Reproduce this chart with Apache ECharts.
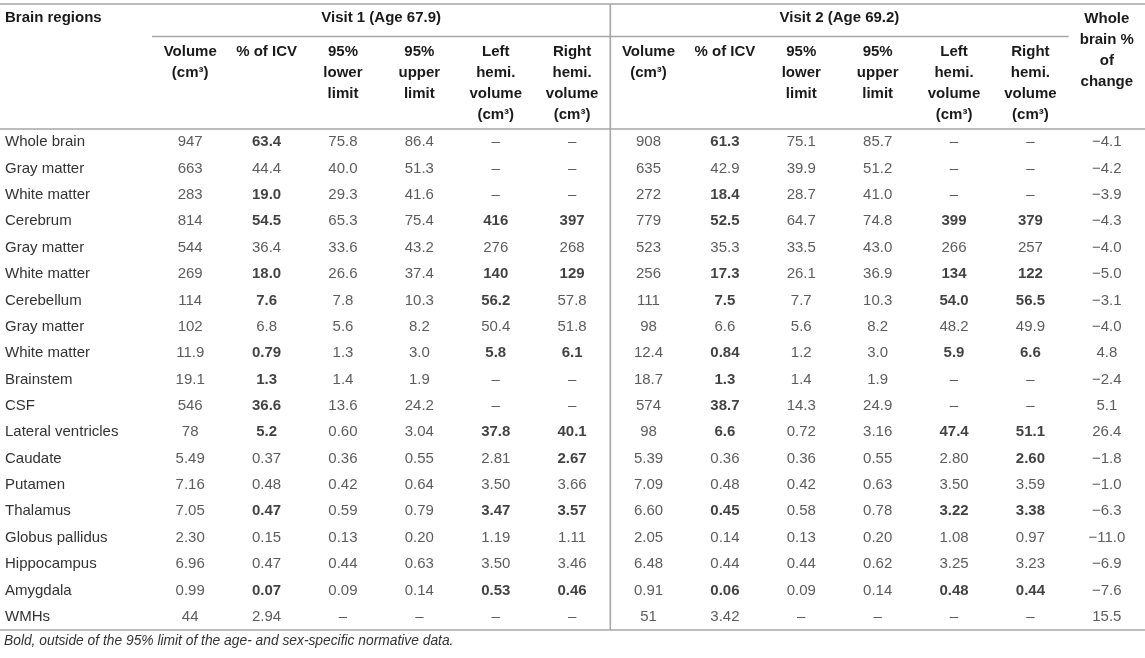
<!DOCTYPE html>
<html>
<head>
<meta charset="utf-8">
<title>Brain volumes</title>
<style>
html, body { margin: 0; padding: 0; background: #fff; }
#chart { width: 1145px; height: 658px; }
</style>
<script src="https://cdn.jsdelivr.net/npm/echarts@6/dist/echarts.min.js"></script>
</head>
<body>
<div id="chart"></div>
<script>
var regions = ['Whole brain', 'Gray matter', 'White matter', 'Cerebrum', 'Gray matter', 'White matter',
    'Cerebellum', 'Gray matter', 'White matter', 'Brainstem', 'CSF', 'Lateral ventricles', 'Caudate',
    'Putamen', 'Thalamus', 'Globus pallidus', 'Hippocampus', 'Amygdala', 'WMHs'];

var visitTitles = ['Visit 1 (Age 67.9)', 'Visit 2 (Age 69.2)'];
var visitHeaders = ['Volume\n(cm³)', '% of ICV', '95%\nlower\nlimit', '95%\nupper\nlimit',
    'Left\nhemi.\nvolume\n(cm³)', 'Right\nhemi.\nvolume\n(cm³)'];
var changeHeader = 'Whole\nbrain %\nof\nchange';
var footnote = 'Bold, outside of the 95% limit of the age- and sex-specific normative data.';

// visit 1 (age 67.9)
var v1Volume = ['947', '663', '283', '814', '544', '269', '114', '102', '11.9', '19.1', '546', '78', '5.49', '7.16', '7.05', '2.30', '6.96', '0.99', '44'];
var v1Icv = ['63.4', '44.4', '19.0', '54.5', '36.4', '18.0', '7.6', '6.8', '0.79', '1.3', '36.6', '5.2', '0.37', '0.48', '0.47', '0.15', '0.47', '0.07', '2.94'];
var v1Lower = ['75.8', '40.0', '29.3', '65.3', '33.6', '26.6', '7.8', '5.6', '1.3', '1.4', '13.6', '0.60', '0.36', '0.42', '0.59', '0.13', '0.44', '0.09', '–'];
var v1Upper = ['86.4', '51.3', '41.6', '75.4', '43.2', '37.4', '10.3', '8.2', '3.0', '1.9', '24.2', '3.04', '0.55', '0.64', '0.79', '0.20', '0.63', '0.14', '–'];
var v1Left = ['–', '–', '–', '416', '276', '140', '56.2', '50.4', '5.8', '–', '–', '37.8', '2.81', '3.50', '3.47', '1.19', '3.50', '0.53', '–'];
var v1Right = ['–', '–', '–', '397', '268', '129', '57.8', '51.8', '6.1', '–', '–', '40.1', '2.67', '3.66', '3.57', '1.11', '3.46', '0.46', '–'];

// visit 2 (age 69.2)
var v2Volume = ['908', '635', '272', '779', '523', '256', '111', '98', '12.4', '18.7', '574', '98', '5.39', '7.09', '6.60', '2.05', '6.48', '0.91', '51'];
var v2Icv = ['61.3', '42.9', '18.4', '52.5', '35.3', '17.3', '7.5', '6.6', '0.84', '1.3', '38.7', '6.6', '0.36', '0.48', '0.45', '0.14', '0.44', '0.06', '3.42'];
var v2Lower = ['75.1', '39.9', '28.7', '64.7', '33.5', '26.1', '7.7', '5.6', '1.2', '1.4', '14.3', '0.72', '0.36', '0.42', '0.58', '0.13', '0.44', '0.09', '–'];
var v2Upper = ['85.7', '51.2', '41.0', '74.8', '43.0', '36.9', '10.3', '8.2', '3.0', '1.9', '24.9', '3.16', '0.55', '0.63', '0.78', '0.20', '0.62', '0.14', '–'];
var v2Left = ['–', '–', '–', '399', '266', '134', '54.0', '48.2', '5.9', '–', '–', '47.4', '2.80', '3.50', '3.22', '1.08', '3.25', '0.48', '–'];
var v2Right = ['–', '–', '–', '379', '257', '122', '56.5', '49.9', '6.6', '–', '–', '51.1', '2.60', '3.59', '3.38', '0.97', '3.23', '0.44', '–'];

var wholeBrainChange = ['−4.1', '−4.2', '−3.9', '−4.3', '−4.0', '−5.0', '−3.1', '−4.0', '4.8', '−2.4', '5.1', '26.4', '−1.8', '−1.0', '−6.3', '−11.0', '−6.9', '−7.6', '15.5'];

// rows outside the 95% limit (shown bold)
var v1IcvOut = [0, 2, 3, 5, 6, 8, 9, 10, 11, 14, 17];
var v1LeftOut = [3, 5, 6, 8, 11, 14, 17];
var v1RightOut = [3, 5, 8, 11, 12, 14, 17];
var v2IcvOut = [0, 2, 3, 5, 6, 8, 9, 10, 11, 14, 17];
var v2LeftOut = [3, 5, 6, 8, 11, 14, 17];
var v2RightOut = [3, 5, 6, 8, 11, 12, 14, 17];

var FONT = 'Liberation Sans, Arial, Helvetica, sans-serif';
var LINE = '#a6a6a6';

var columns = [v1Volume, v1Icv, v1Lower, v1Upper, v1Left, v1Right,
    v2Volume, v2Icv, v2Lower, v2Upper, v2Left, v2Right, wholeBrainChange];
var outside = [[], v1IcvOut, [], [], v1LeftOut, v1RightOut,
    [], v2IcvOut, [], [], v2LeftOut, v2RightOut, []];

function padLines(text, n) {
    var lines = text.split('\n');
    while (lines.length < n) {
        lines.push('\u00a0');
    }
    return lines.join('\n');
}

var headerData = visitHeaders.concat(visitHeaders).map(function (h) {
    return padLines(h, 4);
});
headerData.push({
    value: changeHeader,
    textStyle: { padding: [0, 0, 33, 0] }
});

var cells = [];
columns.forEach(function (col, ci) {
    col.forEach(function (text, ri) {
        var item = { value: [ci, ri, text] };
        if (outside[ci].indexOf(ri) >= 0) {
            item.label = { fontWeight: 'bold', color: '#111' };
        }
        cells.push(item);
    });
});

var chart = echarts.init(document.getElementById('chart'));
chart.setOption({
    animation: false,
    textStyle: { fontFamily: FONT },
    grid: { left: 152, right: 0, top: 129, bottom: 28 },
    xAxis: {
        type: 'category',
        position: 'top',
        data: headerData,
        axisLine: { show: false },
        axisTick: { show: false },
        splitLine: { show: false },
        axisLabel: {
            interval: 0,
            margin: 4,
            fontFamily: FONT,
            fontSize: 15,
            fontWeight: 'bold',
            lineHeight: 21,
            color: '#1a1a1a'
        }
    },
    yAxis: {
        type: 'category',
        inverse: true,
        data: regions,
        axisLine: { show: false },
        axisTick: { show: false },
        splitLine: { show: false },
        axisLabel: {
            align: 'left',
            margin: 147,
            fontFamily: FONT,
            fontSize: 15,
            color: '#333'
        }
    },
    series: [{
        type: 'scatter',
        symbolSize: 0,
        data: cells,
        label: {
            show: true,
            position: 'inside',
            fontFamily: FONT,
            fontSize: 15,
            color: '#333',
            formatter: function (p) {
                return p.data.value[2];
            }
        }
    }]
});

// rules and group titles placed from the axes
var cx0 = chart.convertToPixel({ xAxisIndex: 0 }, 0);
var colW = chart.convertToPixel({ xAxisIndex: 0 }, 1) - cx0;
var ry0 = chart.convertToPixel({ yAxisIndex: 0 }, 0);
var rowH = chart.convertToPixel({ yAxisIndex: 0 }, 1) - ry0;

function colEdge(i) { return cx0 + (i - 0.5) * colW; }

var headTop = ry0 - rowH / 2;
var tableBottom = ry0 + (regions.length - 0.5) * rowH;
var topY = 4;
var underY = 36.5;
var W = chart.getWidth();

function rule(x1, y1, x2, y2) {
    return {
        type: 'line',
        shape: { x1: x1, y1: y1, x2: x2, y2: y2 },
        style: { stroke: LINE, lineWidth: 1.6 }
    };
}

function label(text, x, y, align, extra) {
    var style = {
        text: text, x: x, y: y, align: align, verticalAlign: 'middle',
        font: 'bold 15px ' + FONT, fill: '#1a1a1a'
    };
    if (extra) {
        for (var k in extra) style[k] = extra[k];
    }
    return { type: 'text', style: style };
}

chart.setOption({
    graphic: [
        rule(0, topY, W, topY),
        rule(colEdge(0), underY, colEdge(12), underY),
        rule(0, headTop, W, headTop),
        rule(0, tableBottom, W, tableBottom),
        rule(colEdge(6), topY, colEdge(6), tableBottom),
        label('Brain regions', 5, 18, 'left'),
        label(visitTitles[0], (colEdge(0) + colEdge(6)) / 2, 18, 'center'),
        label(visitTitles[1], (colEdge(6) + colEdge(12)) / 2, 18, 'center'),
        label(footnote, 4, 641, 'left', { font: 'italic 13.8px ' + FONT, fill: '#333' })
    ]
});
</script>
</body>
</html>
